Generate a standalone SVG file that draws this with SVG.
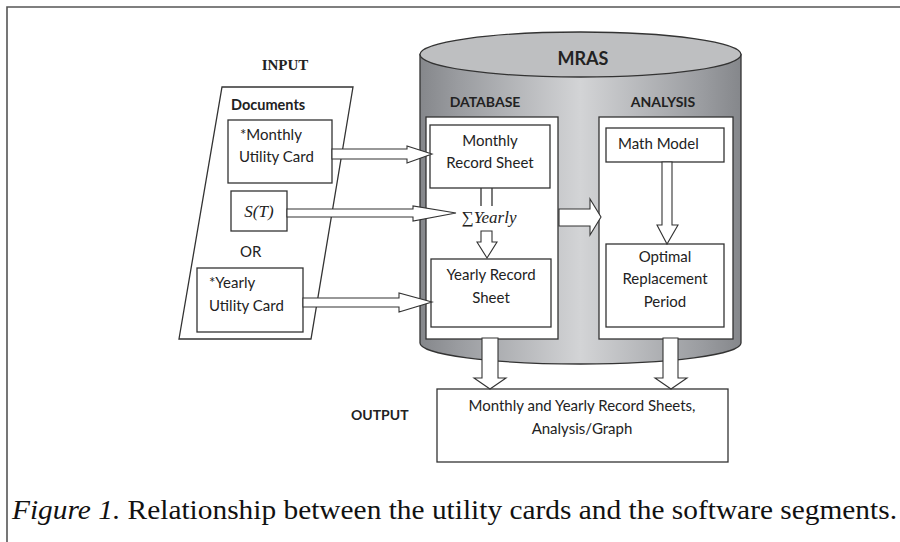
<svg xmlns="http://www.w3.org/2000/svg" width="900" height="542" viewBox="0 0 900 542">
<style>
.ln{fill:none;stroke:#333;stroke-width:1.3}
.box{fill:#fff;stroke:#333;stroke-width:1.3}
.arr{fill:#fff;stroke:#333;stroke-width:1.1;stroke-linejoin:miter}
.t{font-family:Lato,"Open Sans","Liberation Sans",sans-serif;font-size:15px;fill:#222}
.b{font-family:Lato,"Open Sans","Liberation Sans",sans-serif;font-weight:bold;fill:#222}
.m{font-family:"Liberation Serif","DejaVu Serif",serif;font-style:italic;font-size:17px;fill:#222}
</style>
<defs>
<linearGradient id="body" x1="0" y1="0" x2="1" y2="0">
<stop offset="0" stop-color="#85878b"/>
<stop offset="0.12" stop-color="#9a9ca0"/>
<stop offset="0.5" stop-color="#d3d4d6"/>
<stop offset="0.88" stop-color="#9a9ca0"/>
<stop offset="1" stop-color="#85878b"/>
</linearGradient>
</defs>
<rect width="900" height="542" fill="#fff"/>
<g id="frame"><path d="M7,542 L7,7 L900,7" fill="none" stroke="#555" stroke-width="1.6"/></g>

<g id="input-label"><text x="285" y="70" text-anchor="middle" font-family="'Liberation Serif',serif" font-weight="bold" font-size="15" fill="#222">INPUT</text></g>
<g id="documents">
<polygon points="222,87 353,87 311,339 179,339" class="box"/>
<text x="231" y="110" class="b" font-size="14.5">Documents</text>
</g>
<g id="monthly-card">
<rect x="228" y="120" width="104" height="63" class="box"/>
<text x="240" y="140" class="t">*Monthly</text>
<text x="239" y="162" class="t">Utility Card</text>
</g>
<g id="st-box">
<rect x="231" y="191" width="56" height="40" class="box"/>
<text x="259" y="217" text-anchor="middle" class="m">S(T)</text>
</g>
<g id="or-label"><text x="240" y="257" class="t">OR</text></g>
<g id="yearly-card">
<rect x="197" y="268" width="106" height="64" class="box"/>
<text x="209" y="288" class="t">*Yearly</text>
<text x="209" y="311" class="t">Utility Card</text>
</g>

<g id="mras">
<path d="M420,54.5 L420,343 A160.5,21 0 0 0 741,343 L741,54.5 Z" fill="url(#body)" stroke="#333" stroke-width="1.3"/>
<ellipse cx="580.5" cy="54.5" rx="160.5" ry="22.5" fill="#bebfc1" stroke="#333" stroke-width="1.3"/>
<text x="583" y="65" text-anchor="middle" class="b" font-size="18">MRAS</text>
</g>
<g id="database">
<text x="485" y="107" text-anchor="middle" class="b" font-size="14">DATABASE</text>
<rect x="426" y="117" width="132" height="222" class="box"/>
</g>
<g id="analysis">
<text x="663" y="107" text-anchor="middle" class="b" font-size="14">ANALYSIS</text>
<rect x="599" y="117" width="134" height="222" class="box"/>
</g>
<g id="monthly-record">
<rect x="430" y="125" width="120" height="63" class="box"/>
<text x="490" y="146" text-anchor="middle" class="t">Monthly</text>
<text x="490" y="168" text-anchor="middle" class="t">Record Sheet</text>
</g>
<g id="sum-yearly"><text x="489" y="223" text-anchor="middle" class="m">∑Yearly</text></g>
<g id="yearly-record">
<rect x="431" y="259" width="120" height="68" class="box"/>
<text x="491" y="280" text-anchor="middle" class="t">Yearly Record</text>
<text x="491" y="303" text-anchor="middle" class="t">Sheet</text>
</g>
<g id="math-model">
<rect x="606" y="128" width="118" height="34" class="box"/>
<text x="618" y="149" class="t">Math Model</text>
</g>
<g id="optimal">
<rect x="606" y="244" width="118" height="83" class="box"/>
<text x="665" y="262" text-anchor="middle" class="t">Optimal</text>
<text x="665" y="284" text-anchor="middle" class="t">Replacement</text>
<text x="665" y="307" text-anchor="middle" class="t">Period</text>
</g>

<g id="output-label"><text x="351" y="420" class="b" font-size="14">OUTPUT</text></g>
<g id="output-box">
<rect x="437" y="389" width="291" height="73" class="box"/>
<text x="582" y="411" text-anchor="middle" class="t">Monthly and Yearly Record Sheets,</text>
<text x="582" y="434" text-anchor="middle" class="t">Analysis/Graph</text>
</g>

<g id="connectors">
<polygon class="arr" points="332,149 407,149 407,146 432,154 407,163 407,159 332,159"/>
<polygon class="arr" points="287,209 413,209 413,206 456,213 413,221 413,217 287,217"/>
<polygon class="arr" points="303,298 399,298 399,293 432,302 399,312 399,307 303,307"/>
<path class="ln" d="M481,188 L481,206 M492,188 L492,206" stroke-width="1.1"/>
<polygon class="arr" points="481,231 492,231 492,242 497,242 487,258 477,242 481,242"/>
<polygon class="arr" points="559,209 590,209 590,199 601,217 590,235 590,226 559,226"/>
<polygon class="arr" points="662,162 672,162 672,225 678,225 667,244 657,225 662,225"/>
<polygon class="arr" points="482,338 498,338 498,378 506,378 490,389 474,378 482,378"/>
<polygon class="arr" points="663,338 678,338 678,378 687,378 671,389 655,378 663,378"/>
</g>

<g id="caption">
<text x="12" y="519" font-family="'Liberation Serif','Times New Roman',serif" font-size="28" fill="#111" textLength="885" lengthAdjust="spacingAndGlyphs"><tspan font-style="italic">Figure 1.</tspan> Relationship between the utility cards and the software segments.</text>
</g>
</svg>
